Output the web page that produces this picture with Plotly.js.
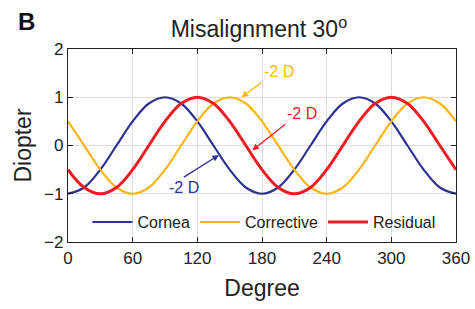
<!DOCTYPE html>
<html><head><meta charset="utf-8">
<script src="https://cdn.plot.ly/plotly-3.0.1.min.js"></script>
<style>body{margin:0;background:#fff}#c{width:475px;height:309px}</style>
</head><body><div id="c"></div>
<script>
const degrees = [0,15,30,45,60,75,90,105,120,135,150,165,180,195,210,225,240,255,270,285,300,315,330,345,360];
const cornea = [-1,-0.87,-0.5,0,0.5,0.87,1,0.87,0.5,0,-0.5,-0.87,-1,-0.87,-0.5,0,0.5,0.87,1,0.87,0.5,0,-0.5,-0.87,-1];
const corrective = [0.5,0,-0.5,-0.87,-1,-0.87,-0.5,0,0.5,0.87,1,0.87,0.5,0,-0.5,-0.87,-1,-0.87,-0.5,0,0.5,0.87,1,0.87,0.5];
const residual = [-0.5,-0.87,-1,-0.87,-0.5,0,0.5,0.87,1,0.87,0.5,0,-0.5,-0.87,-1,-0.87,-0.5,0,0.5,0.87,1,0.87,0.5,0,-0.5];
const xTicks = [0,60,120,180,240,300,360];
const yTicks = [-2,-1,0,1,2];

const navy = '#2E3192', yellow = '#FDB515', red = '#ED1C24';
const F = 'Liberation Sans, Arial, sans-serif';
const traces = [
  {x: degrees, y: cornea, name: 'Cornea', mode: 'lines', line: {color: navy, width: 2.2, shape: 'spline'}},
  {x: degrees, y: corrective, name: 'Corrective', mode: 'lines', line: {color: yellow, width: 2.2, shape: 'spline'}},
  {x: degrees, y: residual, name: 'Residual', mode: 'lines', line: {color: red, width: 3, shape: 'spline'}}
];
const layout = {
  width: 475, height: 309,
  margin: {l: 68, r: 19, t: 49, b: 67},
  paper_bgcolor: '#fff', plot_bgcolor: '#fff',
  font: {family: F, color: '#222'},
  title: {text: 'Misalignment 30<sup>o</sup>', x: 0.545, xanchor: 'center', y: 0.905, yanchor: 'middle', font: {size: 23, family: F, color: '#222'}},
  xaxis: {range: [0, 360], tickvals: xTicks, ticks: 'inside', ticklen: 5, tickcolor: '#222',
          showline: true, linecolor: '#222', linewidth: 1.2, mirror: 'ticks',
          showgrid: true, gridcolor: '#dedede', zeroline: false,
          tickfont: {size: 17, family: F, color: '#222'},
          title: {text: 'Degree', font: {size: 23, family: F, color: '#222'}, standoff: 13}},
  yaxis: {range: [-2, 2], tickvals: yTicks, ticks: 'inside', ticklen: 5, tickcolor: '#222',
          showline: true, linecolor: '#222', linewidth: 1.2, mirror: 'ticks',
          showgrid: true, gridcolor: '#dedede', zeroline: false,
          tickfont: {size: 17, family: F, color: '#222'},
          title: {text: 'Diopter', font: {size: 23, family: F, color: '#222'}, standoff: 6}},
  legend: {orientation: 'h', x: 0.505, xanchor: 'center', y: 0.015, yanchor: 'bottom',
           bgcolor: 'rgba(255,255,255,0)', font: {size: 16, family: F, color: '#222'},
           itemwidth: 40, tracegroupgap: 0},
  showlegend: true,
  annotations: [
    {xref: 'paper', yref: 'paper', x: -0.134, y: 1.145, text: '<b>B</b>', showarrow: false,
     font: {size: 24, family: F, color: '#111'}, xanchor: 'left', yanchor: 'middle'},
    {x: 161, y: 1.0, ax: 20, ay: -15, text: '-2 D', showarrow: true, arrowhead: 2, arrowsize: 1, arrowwidth: 1.3,
     arrowcolor: yellow, font: {size: 16, family: F, color: yellow}, xanchor: 'left', yanchor: 'bottom'},
    {x: 171, y: -0.1, ax: 33, ay: -26, text: '-2 D', showarrow: true, arrowhead: 2, arrowsize: 1, arrowwidth: 1.3,
     arrowcolor: red, font: {size: 16, family: F, color: red}, xanchor: 'left', yanchor: 'bottom'},
    {x: 140, y: -0.2, ax: -35, ay: 22, text: '-2 D', showarrow: true, arrowhead: 2, arrowsize: 1, arrowwidth: 1.3,
     arrowcolor: navy, font: {size: 16, family: F, color: navy}, xanchor: 'center', yanchor: 'top'}
  ]
};
Plotly.newPlot('c', traces, layout, {displayModeBar: false, staticPlot: true});
</script></body></html>
